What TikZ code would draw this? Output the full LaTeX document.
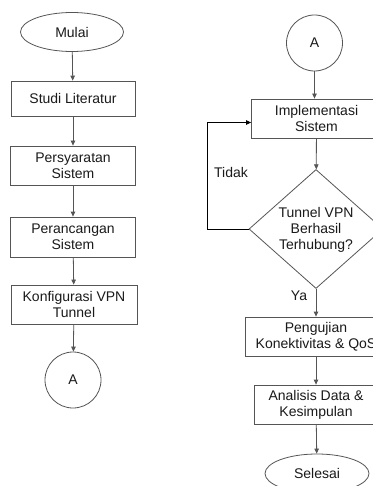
\documentclass[tikz,border=0pt]{standalone}
\usepackage{fontspec}
\setmainfont{Liberation Sans}
\usetikzlibrary{shapes.geometric,arrows.meta}
\definecolor{edgegray}{HTML}{555555}
\definecolor{txt}{HTML}{1A1A1A}
\begin{document}
\begin{tikzpicture}[x=1pt,y=-1pt,
  every node/.style={text=txt, font=\fontsize{14}{16}\selectfont},
  procbox/.style={draw=edgegray, line width=0.8pt, rectangle, minimum height=39pt, inner sep=0pt, align=center},
  term/.style={draw=edgegray, line width=0.8pt, ellipse, minimum width=103pt, minimum height=39pt, inner sep=0pt},
  conn/.style={draw=edgegray, line width=0.8pt, circle, minimum size=56pt, inner sep=0pt},
  flow/.style={draw=edgegray, line width=0.8pt, -{Triangle[length=5pt,width=4.5pt]}}]
\useasboundingbox (0,0) rectangle (372,486);
\fill[white] (0,0) rectangle (372,486);
% left column
\node[term] (mulai) at (72,32) {Mulai};
\node[procbox, minimum width=124pt, minimum height=35pt] (studi) at (73,98.5) {Studi Literatur};
\node[procbox, minimum width=125pt] (syarat) at (73,165.5) {Persyaratan\\Sistem};
\node[procbox, minimum width=125pt, minimum height=40pt] (rancang) at (73,237) {Perancangan\\Sistem};
\node[procbox, minimum width=126pt] (konfig) at (74,304.5) {Konfigurasi VPN\\Tunnel};
\node[conn] (a1) at (73,380) {A};
% right column
\node[conn] (a2) at (314.5,43) {A};
\node[procbox, minimum width=130pt] (impl) at (316.5,118.5) {Implementasi\\Sistem};
\node[diamond, draw=edgegray, line width=0.8pt, minimum width=134pt, minimum height=119pt, inner sep=0pt] (dia) at (316,229) {};
\node[align=center] (diatext) at (316,230) {Tunnel VPN\\Berhasil\\Terhubung?};
\node[procbox, minimum width=142pt] (uji) at (316,336.5) {Pengujian\\Konektivitas \& QoS};
\node[procbox, minimum width=124pt] (analisis) at (316,404.5) {Analisis Data \&\\Kesimpulan};
\node[term, minimum width=104pt] (selesai) at (317,473.5) {Selesai};
% connectors
\draw[flow] (mulai) -- (studi);
\draw[flow] (studi) -- (syarat);
\draw[flow] (syarat) -- (rancang);
\draw[flow] (rancang) -- (konfig);
\draw[flow] (konfig) -- (a1);
\draw[flow] (a2) -- (a2 |- impl.north);
\draw[flow] (impl) -- (dia);
\draw[flow] (dia) -- (uji);
\draw[flow] (uji) -- (analisis);
\draw[flow] (analisis) -- (selesai);
\coordinate (loopbot) at (207,229);
\coordinate (looptop) at (207,122.5);
\draw[flow, draw=black] (dia.west) -- (loopbot) -- (looptop) -- (impl.west |- looptop);
\node (tidak) at (231,172) {Tidak};
\node (ya) at (299,296) {Ya};
\end{tikzpicture}
\end{document}
